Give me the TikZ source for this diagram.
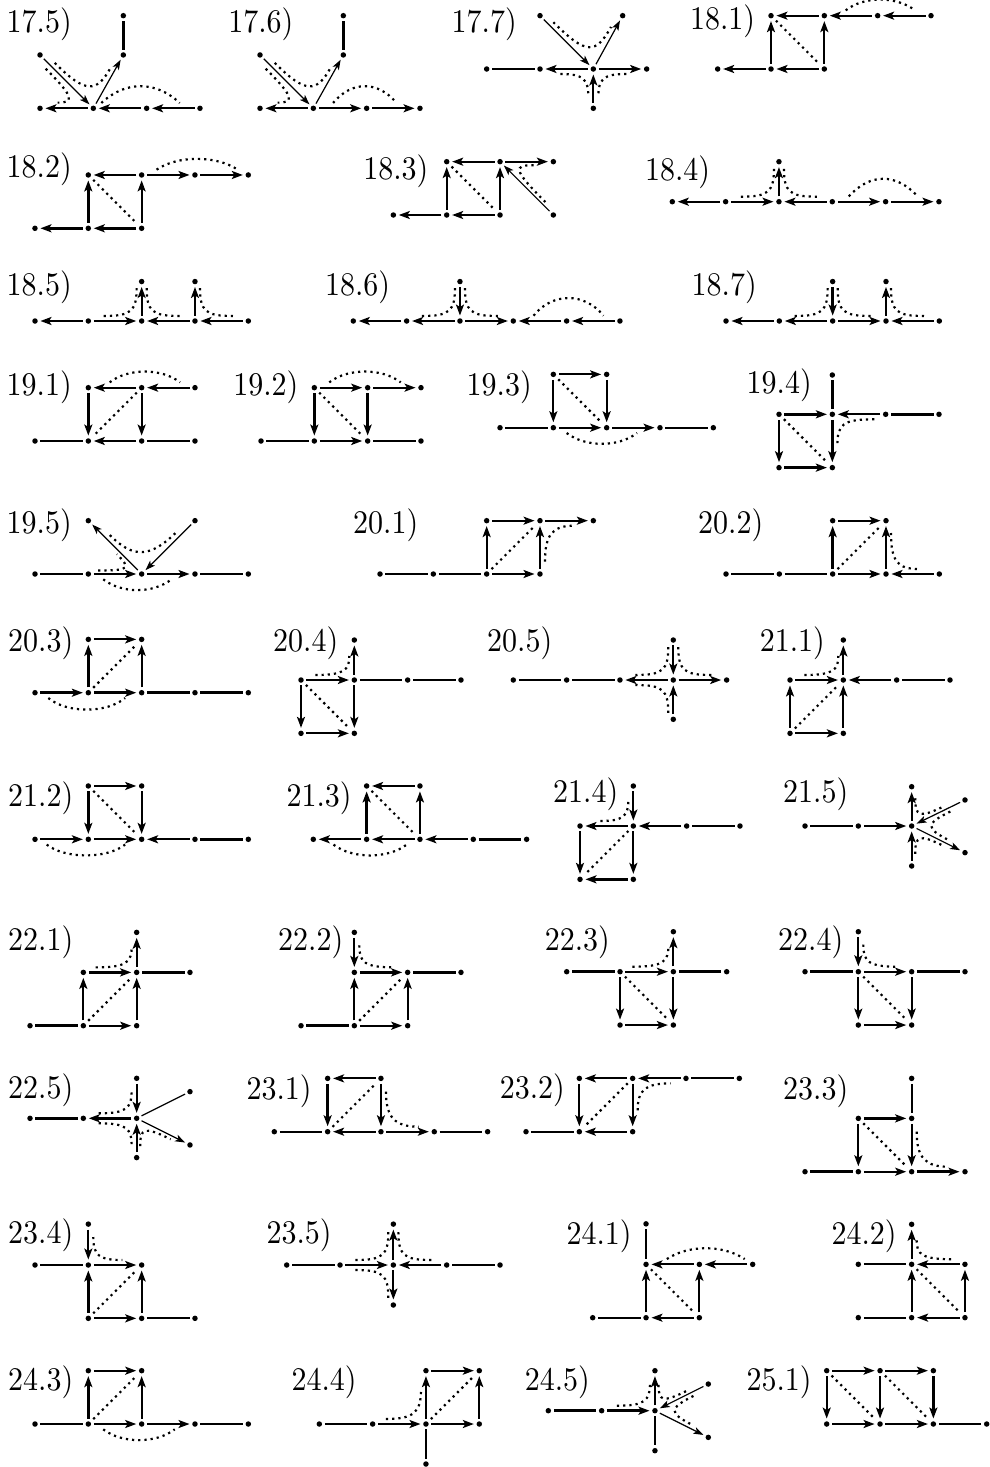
\documentclass[tikz,border=0pt]{standalone}
\usepackage{fontspec}
\usepackage{graphicx}
\newfontfamily\labfont{lmroman10-regular.otf}
\usetikzlibrary{arrows.meta,calc}
\tikzset{
 dt/.style={circle,fill=black,draw=none,inner sep=0pt,minimum size=5.5pt},
 ar/.style={line width=2pt,-{Stealth[length=11pt,width=8pt,inset=2.5pt]},shorten >=2.5pt,shorten <=2.5pt},
 tar/.style={ar,line width=2.8pt},
 nar/.style={line width=1.2pt,-{Stealth[length=10pt,width=7pt,inset=2.5pt]},shorten >=2.5pt,shorten <=2.5pt},
 ln/.style={line width=2pt,shorten >=2.5pt,shorten <=2.5pt},
 tln/.style={ln,line width=2.8pt},
 nln/.style={ln,line width=1.2pt},
 dc/.style={line width=2.2pt,dash pattern=on 2.2pt off 4pt},
 ds/.style={dc,shorten >=4pt,shorten <=4pt},
 lab/.style={anchor=base west,inner sep=0pt,font=\labfont\fontsize{30}{33}\selectfont},
 dg/.style={x=53.33pt,y=-53.33pt},
}
\newcommand\dotn[2]{\node[dt] (#1) at (#2) {};}
\newcommand\hug[7]{\draw[dc] ($(#1)!#4pt!(#2)+(#1)!#6pt!(#3)-(#1)$) .. controls ($(#1)!#7pt!(#2)+(#1)!#6pt!(#3)-(#1)$) and ($(#1)!#7pt!(#3)+(#1)!#6pt!(#2)-(#1)$) .. ($(#1)!#5pt!(#3)+(#1)!#6pt!(#2)-(#1)$);}
\newcommand\arcT[6]{\draw[dc] ($(#1)+(#2,-0.1)$) .. controls +(#5,-#6) and +(-#5,-#6) .. ($(#3)+(#4,-0.1)$);}
\newcommand\arcB[6]{\draw[dc] ($(#1)+(#2,0.1)$) .. controls +(#5,#6) and +(-#5,#6) .. ($(#3)+(#4,0.1)$);}
\newcommand\lbl[4]{\node[lab] (#3) at (#1,#2) {\scalebox{1}[1.1]{#4)}};}
\begin{document}
\begin{tikzpicture}[x=1pt,y=-1pt]
\useasboundingbox (0,0) rectangle (990,1467);
% ---------- 17.5
\lbl{6.5}{32}{l175}{17.5}
\begin{scope}[shift={(40,108.3)},dg,name prefix=a-]
\dotn{A}{0,-1}\dotn{B}{0,0}\dotn{C}{1,0}\dotn{D}{2,0}\dotn{E}{3,0}\dotn{F}{1.5625,-1}\dotn{G}{1.5625,-1.737}
\draw[ar] (C)--(B); \draw[ar] (D)--(C); \draw[ar] (E)--(D);
\draw[nar] (A)--(C); \draw[nar] (C)--(F); \draw[tln] (F)--(G);
\hug{C}{A}{B}{56}{30}{8}{14}
\hug{C}{A}{F}{58}{42}{5}{14}
\arcT{C}{0.15}{E}{-0.38}{0.45}{0.42}
\end{scope}
% ---------- 17.6
\lbl{228.2}{32}{l176}{17.6}
\begin{scope}[shift={(260,108.3)},dg,name prefix=b-]
\dotn{A}{0,-1}\dotn{B}{0,0}\dotn{C}{1,0}\dotn{D}{2,0}\dotn{E}{3,0}\dotn{F}{1.5625,-1}\dotn{G}{1.5625,-1.737}
\draw[ar] (C)--(B); \draw[ar] (C)--(D); \draw[ar] (D)--(E);
\draw[nar] (A)--(C); \draw[nar] (C)--(F); \draw[tln] (F)--(G);
\hug{C}{A}{B}{56}{30}{8}{14}
\hug{C}{A}{F}{58}{42}{5}{14}
\arcT{C}{0.37}{E}{-0.44}{0.35}{0.42}
\end{scope}
% ---------- 17.7
\lbl{451.5}{32}{l177}{17.7}
\begin{scope}[shift={(540,69)},dg,name prefix=c-]
\dotn{L0}{-1,0}\dotn{L1}{0,0}\dotn{C}{1,0}\dotn{R}{2,0}\dotn{Bt}{1,0.737}\dotn{P}{0,-1}\dotn{Q}{1.55,-1}
\draw[ln] (L0)--(L1); \draw[ar] (C)--(L1); \draw[ar] (C)--(R); \draw[ar] (Bt)--(C);
\draw[nar] (P)--(C); \draw[nar] (C)--(Q);
\hug{C}{P}{Q}{60}{44}{5}{13}
\hug{C}{L1}{Bt}{33}{28}{5}{10}
\hug{C}{R}{Bt}{33}{28}{5}{10}
\end{scope}
% ---------- 18.1
\lbl{689.8}{29.5}{l181}{18.1}
\begin{scope}[shift={(771,69)},dg,name prefix=d-]
\dotn{TL}{0,-1}\dotn{TM}{1,-1}\dotn{T3}{2,-1}\dotn{T4}{3,-1}\dotn{BLz}{-1,0}\dotn{BL}{0,0}\dotn{BM}{1,0}
\draw[ar] (TM)--(TL); \draw[ar] (T3)--(TM); \draw[ar] (T4)--(T3);
\draw[tar] (BL)--(TL); \draw[ar] (BM)--(TM); \draw[ar] (BL)--(BLz); \draw[ar] (BM)--(BL);
\draw[ds] (TL)--(BM);
\arcT{TM}{0.4}{T4}{-0.3}{0.35}{0.27}
\end{scope}
% ---------- 18.2
\lbl{6.5}{177}{l182}{18.2}
\begin{scope}[shift={(88.3,228.3)},dg,name prefix=e-]
\dotn{TL}{0,-1}\dotn{TM}{1,-1}\dotn{T3}{2,-1}\dotn{T4}{3,-1}\dotn{BLz}{-1,0}\dotn{BL}{0,0}\dotn{BM}{1,0}
\draw[tar] (TM)--(TL); \draw[ar] (TM)--(T3); \draw[tar] (T3)--(T4);
\draw[tar] (BL)--(TL); \draw[ar] (BM)--(TM); \draw[tar] (BL)--(BLz); \draw[tar] (BM)--(BL);
\draw[ds] (TL)--(BM);
\arcT{TM}{0.28}{T4}{-0.2}{0.4}{0.27}
\end{scope}
% ---------- 18.3
\lbl{363.2}{179}{l183}{18.3}
\begin{scope}[shift={(446.7,215)},dg,name prefix=f-]
\dotn{TL}{0,-1}\dotn{TM}{1,-1}\dotn{T3}{2,-1}\dotn{BLz}{-1,0}\dotn{BL}{0,0}\dotn{BM}{1,0}\dotn{BR}{2,0}
\draw[ar] (TM)--(TL); \draw[ar] (TM)--(T3); \draw[ar] (BL)--(TL); \draw[tar] (BM)--(TM);
\draw[ar] (BL)--(BLz); \draw[ar] (BM)--(BL); \draw[nar] (BR)--(TM);
\draw[ds] (TL)--(BM);
\hug{TM}{T3}{BR}{30}{58}{5}{10}
\end{scope}
% ---------- 18.4
\lbl{644.8}{180}{l184}{18.4}
\begin{scope}[shift={(672.3,201.7)},dg,name prefix=g-]
\dotn{N0}{0,0}\dotn{N1}{1,0}\dotn{N2}{2,0}\dotn{N3}{3,0}\dotn{N4}{4,0}\dotn{N5}{5,0}\dotn{T}{2,-0.75}
\draw[ar] (N1)--(N0); \draw[ar] (N1)--(N2); \draw[ar] (N3)--(N2); \draw[ar] (N3)--(N4); \draw[ar] (N4)--(N5); \draw[tar] (N2)--(T);
\hug{N2}{N1}{T}{38}{34}{5}{10}
\hug{N2}{N3}{T}{38}{34}{5}{10}
\arcT{N3}{0.31}{N5}{-0.4}{0.4}{0.44}
\end{scope}
% ---------- 18.5
\lbl{6.5}{295}{l185}{18.5}
\begin{scope}[shift={(35,321)},dg,name prefix=h-]
\dotn{N0}{0,0}\dotn{N1}{1,0}\dotn{N2}{2,0}\dotn{N3}{3,0}\dotn{N4}{4,0}\dotn{T1}{2,-0.74}\dotn{T2}{3,-0.74}
\draw[tar] (N1)--(N0); \draw[tar] (N1)--(N2); \draw[ar] (N3)--(N2); \draw[tar] (N4)--(N3);
\draw[ar] (N2)--(T1); \draw[ar] (N3)--(T2);
\hug{N2}{N1}{T1}{38}{34}{5}{10}
\hug{N2}{N3}{T1}{38}{34}{5}{10}
\hug{N3}{N4}{T2}{38}{34}{5}{10}
\end{scope}
% ---------- 18.6
\lbl{324.8}{295}{l186}{18.6}
\begin{scope}[shift={(353.3,321)},dg,name prefix=i-]
\dotn{N0}{0,0}\dotn{N1}{1,0}\dotn{N2}{2,0}\dotn{N3}{3,0}\dotn{N4}{4,0}\dotn{N5}{5,0}\dotn{T}{2,-0.74}
\draw[tar] (N1)--(N0); \draw[ar] (N2)--(N1); \draw[ar] (N2)--(N3); \draw[ar] (N4)--(N3); \draw[tar] (N5)--(N4);
\draw[tar] (T)--(N2);
\hug{N2}{N1}{T}{38}{34}{5}{10}
\hug{N2}{N3}{T}{38}{34}{5}{10}
\arcT{N3}{0.38}{N5}{-0.31}{0.35}{0.44}
\end{scope}
% ---------- 18.7
\lbl{691.5}{295}{l187}{18.7}
\begin{scope}[shift={(726,321)},dg,name prefix=j-]
\dotn{N0}{0,0}\dotn{N1}{1,0}\dotn{N2}{2,0}\dotn{N3}{3,0}\dotn{N4}{4,0}\dotn{T1}{2,-0.74}\dotn{T2}{3,-0.74}
\draw[ar] (N1)--(N0); \draw[ar] (N2)--(N1); \draw[ar] (N2)--(N3); \draw[ar] (N4)--(N3);
\draw[tar] (T1)--(N2); \draw[ar] (N3)--(T2);
\hug{N2}{N1}{T1}{38}{34}{5}{10}
\hug{N2}{N3}{T1}{38}{34}{5}{10}
\hug{N3}{N4}{T2}{38}{34}{5}{10}
\end{scope}
% ---------- 19.1
\lbl{6.5}{395}{l191}{19.1}
\begin{scope}[shift={(35,441)},dg,name prefix=k-]
\dotn{B0}{0,0}\dotn{B1}{1,0}\dotn{B2}{2,0}\dotn{B3}{3,0}\dotn{T1}{1,-1}\dotn{T2}{2,-1}\dotn{T3}{3,-1}
\draw[ar] (T2)--(T1); \draw[ar] (T3)--(T2); \draw[tar] (T1)--(B1); \draw[ar] (T2)--(B2); \draw[ar] (B2)--(B1);
\draw[ln] (B0)--(B1); \draw[ln] (B2)--(B3);
\draw[ds] (T2)--(B1);
\arcT{T1}{0.4}{T3}{-0.28}{0.35}{0.27}
\end{scope}
% ---------- 19.2
\lbl{233.2}{395}{l192}{19.2}
\begin{scope}[shift={(261,441)},dg,name prefix=l-]
\dotn{B0}{0,0}\dotn{B1}{1,0}\dotn{B2}{2,0}\dotn{B3}{3,0}\dotn{T1}{1,-1}\dotn{T2}{2,-1}\dotn{T3}{3,-1}
\draw[ar] (T1)--(T2); \draw[ar] (T2)--(T3); \draw[tar] (T1)--(B1); \draw[tar] (T2)--(B2); \draw[ar] (B1)--(B2);
\draw[ln] (B0)--(B1); \draw[ln] (B2)--(B3);
\draw[ds] (T1)--(B2);
\arcT{T1}{0.28}{T3}{-0.38}{0.35}{0.27}
\end{scope}
% ---------- 19.3
\lbl{466.5}{395}{l193}{19.3}
\begin{scope}[shift={(500,427.7)},dg,name prefix=m-]
\dotn{R0}{0,0}\dotn{R1}{1,0}\dotn{R2}{2,0}\dotn{R3}{3,0}\dotn{R4}{4,0}\dotn{T1}{1,-1}\dotn{T2}{2,-1}
\draw[ar] (T1)--(T2); \draw[ar] (T1)--(R1); \draw[ar] (T2)--(R2); \draw[ar] (R1)--(R2); \draw[ar] (R2)--(R3);
\draw[ln] (R0)--(R1); \draw[ln] (R3)--(R4);
\draw[ds] (T1)--(R2);
\arcB{R1}{0.25}{R3}{-0.43}{0.35}{0.27}
\end{scope}
% ---------- 19.4
\lbl{746.5}{393}{l194}{19.4}
\begin{scope}[shift={(779,414.3)},dg,name prefix=n-]
\dotn{M0}{0,0}\dotn{M1}{1,0}\dotn{M2}{2,0}\dotn{M3}{3,0}\dotn{T}{1,-0.737}\dotn{B0}{0,1}\dotn{B1}{1,1}
\draw[tar] (M0)--(M1); \draw[ar] (M2)--(M1); \draw[tln] (M2)--(M3); \draw[tln] (T)--(M1);
\draw[tar] (M0)--(B0); \draw[tar] (M1)--(B1); \draw[tar] (B0)--(B1);
\draw[ds] (M0)--(B1);
\hug{M1}{M2}{B1}{42}{32}{5}{10}
\end{scope}
% ---------- 19.5
\lbl{6.5}{533}{l195}{19.5}
\begin{scope}[shift={(35,574)},dg,name prefix=o-]
\dotn{R0}{0,0}\dotn{R1}{1,0}\dotn{R2}{2,0}\dotn{R3}{3,0}\dotn{R4}{4,0}\dotn{P}{1,-1}\dotn{Q}{3,-1}
\draw[ln] (R0)--(R1); \draw[ar] (R1)--(R2); \draw[ar] (R2)--(R3); \draw[ln] (R3)--(R4);
\draw[nar] (R2)--(P); \draw[nar] (Q)--(R2);
\hug{R2}{P}{Q}{50}{56}{5}{17}
\hug{R2}{R1}{P}{40}{28}{5}{8}
\arcB{R1}{0.28}{R3}{-0.44}{0.35}{0.27}
\end{scope}
% ---------- 20.1
\lbl{353}{533}{l201}{20.1}
\begin{scope}[shift={(380,574)},dg,name prefix=p-]
\dotn{R0}{0,0}\dotn{R1}{1,0}\dotn{R2}{2,0}\dotn{R3}{3,0}\dotn{T2}{2,-1}\dotn{T3}{3,-1}\dotn{T4}{4,-1}
\draw[ln] (R0)--(R1); \draw[ln] (R1)--(R2); \draw[ar] (R2)--(R3); \draw[ar] (R2)--(T2);
\draw[ar] (T2)--(T3); \draw[ar] (R3)--(T3); \draw[ar] (T3)--(T4);
\draw[ds] (R2)--(T3);
\hug{T3}{R3}{T4}{41}{35}{5}{13}
\end{scope}
% ---------- 20.2
\lbl{698}{533}{l202}{20.2}
\begin{scope}[shift={(726,574)},dg,name prefix=q-]
\dotn{R0}{0,0}\dotn{R1}{1,0}\dotn{R2}{2,0}\dotn{R3}{3,0}\dotn{R4}{4,0}\dotn{T2}{2,-1}\dotn{T3}{3,-1}
\draw[ln] (R0)--(R1); \draw[ln] (R1)--(R2); \draw[tar] (R2)--(T2); \draw[ar] (T2)--(T3);
\draw[ar] (R2)--(R3); \draw[ar] (R3)--(T3); \draw[ar] (R4)--(R3);
\draw[ds] (R2)--(T3);
\hug{R3}{T3}{R4}{41}{33}{5}{12}
\end{scope}
% ---------- 20.3
\lbl{8}{651}{l203}{20.3}
\begin{scope}[shift={(35,692.7)},dg,name prefix=r-]
\dotn{R0}{0,0}\dotn{R1}{1,0}\dotn{R2}{2,0}\dotn{R3}{3,0}\dotn{R4}{4,0}\dotn{T1}{1,-1}\dotn{T2}{2,-1}
\draw[tar] (R0)--(R1); \draw[tar] (R1)--(R2); \draw[tln] (R2)--(R3); \draw[tln] (R3)--(R4);
\draw[tar] (R1)--(T1); \draw[ar] (R2)--(T2); \draw[ar] (T1)--(T2);
\draw[ds] (R1)--(T2);
\arcB{R0}{0.25}{R2}{-0.31}{0.35}{0.29}
\end{scope}
% ---------- 20.4
\lbl{273}{651}{l204}{20.4}
\begin{scope}[shift={(301,680)},dg,name prefix=s-]
\dotn{M0}{0,0}\dotn{M1}{1,0}\dotn{M2}{2,0}\dotn{M3}{3,0}\dotn{T}{1,-0.75}\dotn{B0}{0,1}\dotn{B1}{1,1}
\draw[ar] (M0)--(M1); \draw[ar] (M1)--(T); \draw[ln] (M1)--(M2); \draw[ln] (M2)--(M3);
\draw[ar] (M0)--(B0); \draw[ar] (M1)--(B1); \draw[ar] (B0)--(B1);
\draw[ds] (M0)--(B1);
\hug{M1}{M0}{T}{39}{24}{5}{10}
\end{scope}
% ---------- 20.5
\lbl{487}{651}{l205}{20.5}
\begin{scope}[shift={(513.3,680)},dg,name prefix=t-]
\dotn{R0}{0,0}\dotn{R1}{1,0}\dotn{R2}{2,0}\dotn{R3}{3,0}\dotn{R4}{4,0}\dotn{T}{3,-0.75}\dotn{B}{3,0.737}
\draw[ln] (R0)--(R1); \draw[ln] (R1)--(R2); \draw[ar] (R3)--(R2); \draw[ar] (R3)--(R4);
\draw[ar] (T)--(R3); \draw[ar] (B)--(R3);
\hug{R3}{R2}{T}{38}{34}{5}{10}
\hug{R3}{R4}{T}{38}{34}{5}{10}
\hug{R3}{R2}{B}{38}{34}{5}{10}
\end{scope}
% ---------- 21.1
\lbl{759.7}{651}{l211}{21.1}
\begin{scope}[shift={(790,680)},dg,name prefix=u-]
\dotn{M0}{0,0}\dotn{M1}{1,0}\dotn{M2}{2,0}\dotn{M3}{3,0}\dotn{T}{1,-0.75}\dotn{B0}{0,1}\dotn{B1}{1,1}
\draw[ar] (M0)--(M1); \draw[ar] (M1)--(T); \draw[ar] (M2)--(M1); \draw[ln] (M2)--(M3);
\draw[ar] (B0)--(M0); \draw[ar] (B1)--(M1); \draw[ar] (B0)--(B1);
\draw[ds] (B0)--(M1);
\hug{M1}{M0}{T}{39}{24}{5}{10}
\end{scope}
% ---------- 21.2
\lbl{8}{806}{l212}{21.2}
\begin{scope}[shift={(35,839.3)},dg,name prefix=v-]
\dotn{R0}{0,0}\dotn{R1}{1,0}\dotn{R2}{2,0}\dotn{R3}{3,0}\dotn{R4}{4,0}\dotn{T1}{1,-1}\dotn{T2}{2,-1}
\draw[ar] (R0)--(R1); \draw[ar] (R1)--(R2); \draw[ar] (R3)--(R2); \draw[tln] (R3)--(R4);
\draw[ar] (T1)--(T2); \draw[tar] (T1)--(R1); \draw[ar] (T2)--(R2);
\draw[ds] (T1)--(R2);
\arcB{R0}{0.22}{R2}{-0.31}{0.35}{0.27}
\end{scope}
% ---------- 21.3
\lbl{286.3}{806}{l213}{21.3}
\begin{scope}[shift={(313.3,839.3)},dg,name prefix=w-]
\dotn{R0}{0,0}\dotn{R1}{1,0}\dotn{R2}{2,0}\dotn{R3}{3,0}\dotn{R4}{4,0}\dotn{T1}{1,-1}\dotn{T2}{2,-1}
\draw[ar] (R1)--(R0); \draw[ar] (R2)--(R1); \draw[ar] (R3)--(R2); \draw[tln] (R3)--(R4);
\draw[ar] (T2)--(T1); \draw[tar] (R1)--(T1); \draw[ar] (R2)--(T2);
\draw[ds] (T1)--(R2);
\arcB{R0}{0.38}{R2}{-0.25}{0.35}{0.27}
\end{scope}
% ---------- 21.4
\lbl{553}{802}{l214}{21.4}
\begin{scope}[shift={(580,826)},dg,name prefix=x-]
\dotn{M0}{0,0}\dotn{M1}{1,0}\dotn{M2}{2,0}\dotn{M3}{3,0}\dotn{T}{1,-0.75}\dotn{B0}{0,1}\dotn{B1}{1,1}
\draw[ar] (T)--(M1); \draw[ar] (M1)--(M0); \draw[ar] (M2)--(M1); \draw[ln] (M2)--(M3);
\draw[ar] (M0)--(B0); \draw[ar] (M1)--(B1); \draw[tar] (B1)--(B0);
\draw[ds] (M1)--(B0);
\hug{M1}{M0}{T}{33}{26}{5}{10}
\end{scope}
% ---------- 21.5
\lbl{783}{802}{l215}{21.5}
\begin{scope}[shift={(805,826)},dg,name prefix=y-]
\dotn{M0}{0,0}\dotn{M1}{1,0}\dotn{C}{2,0}\dotn{T}{2,-0.737}\dotn{B}{2,0.75}\dotn{RU}{3,-0.488}\dotn{RD}{3,0.5}
\draw[ln] (M0)--(M1); \draw[ar] (M1)--(C); \draw[ar] (C)--(T); \draw[ar] (B)--(C);
\draw[nar] (RU)--(C); \draw[nar] (C)--(RD);
\hug{C}{T}{RU}{26}{36}{4}{8}
\hug{C}{RU}{RD}{38}{38}{5}{10}
\hug{C}{B}{RD}{26}{36}{4}{8}
\end{scope}
% ---------- 22.1
\lbl{8}{950}{l221}{22.1}
\begin{scope}[shift={(30,1025.7)},dg,name prefix=z1-]
\dotn{B0}{0,0}\dotn{B1}{1,0}\dotn{B2}{2,0}\dotn{M1}{1,-1}\dotn{M2}{2,-1}\dotn{M3}{3,-1}\dotn{T}{2,-1.75}
\draw[tln] (B0)--(B1); \draw[ar] (B1)--(B2); \draw[ar] (B1)--(M1); \draw[ar] (B2)--(M2);
\draw[tar] (M1)--(M2); \draw[tln] (M2)--(M3); \draw[ar] (M2)--(T);
\draw[ds] (B1)--(M2);
\hug{M2}{M1}{T}{41}{26}{5}{10}
\end{scope}
% ---------- 22.2
\lbl{278}{950}{l222}{22.2}
\begin{scope}[shift={(301,1025.7)},dg,name prefix=z2-]
\dotn{B0}{0,0}\dotn{B1}{1,0}\dotn{B2}{2,0}\dotn{M1}{1,-1}\dotn{M2}{2,-1}\dotn{M3}{3,-1}\dotn{T}{1,-1.75}
\draw[tln] (B0)--(B1); \draw[ar] (B1)--(B2); \draw[ar] (B1)--(M1); \draw[ar] (B2)--(M2);
\draw[tar] (M1)--(M2); \draw[tln] (M2)--(M3); \draw[ar] (T)--(M1);
\draw[ds] (B1)--(M2);
\hug{M1}{T}{M2}{27}{40}{5}{10}
\end{scope}
% ---------- 22.3
\lbl{544.7}{950}{l223}{22.3}
\begin{scope}[shift={(566.7,971.7)},dg,name prefix=z3-]
\dotn{M0}{0,0}\dotn{M1}{1,0}\dotn{M2}{2,0}\dotn{M3}{3,0}\dotn{T}{2,-0.75}\dotn{B1}{1,1}\dotn{B2}{2,1}
\draw[tln] (M0)--(M1); \draw[ar] (M1)--(M2); \draw[tln] (M2)--(M3); \draw[ar] (M2)--(T);
\draw[ar] (M1)--(B1); \draw[ar] (M2)--(B2); \draw[tar] (B1)--(B2);
\draw[ds] (M1)--(B2);
\hug{M2}{M1}{T}{41}{26}{5}{10}
\end{scope}
% ---------- 22.4
\lbl{778}{950}{l224}{22.4}
\begin{scope}[shift={(805,971.7)},dg,name prefix=z4-]
\dotn{M0}{0,0}\dotn{M1}{1,0}\dotn{M2}{2,0}\dotn{M3}{3,0}\dotn{T}{1,-0.75}\dotn{B1}{1,1}\dotn{B2}{2,1}
\draw[tln] (M0)--(M1); \draw[ar] (M1)--(M2); \draw[tln] (M2)--(M3); \draw[ar] (T)--(M1);
\draw[ar] (M1)--(B1); \draw[ar] (M2)--(B2); \draw[tar] (B1)--(B2);
\draw[ds] (M1)--(B2);
\hug{M1}{T}{M2}{27}{40}{5}{10}
\end{scope}
% ---------- 22.5
\lbl{8}{1098}{l225}{22.5}
\begin{scope}[shift={(30,1118.3)},dg,name prefix=z5-]
\dotn{M0}{0,0}\dotn{M1}{1,0}\dotn{C}{2,0}\dotn{T}{2,-0.75}\dotn{B}{2,0.737}\dotn{RU}{3,-0.5}\dotn{RD}{3,0.5}
\draw[tln] (M0)--(M1); \draw[tar] (C)--(M1); \draw[ar] (T)--(C); \draw[ar] (B)--(C);
\draw[nln] (C)--(RU); \draw[nar] (C)--(RD);
\hug{C}{M1}{T}{38}{28}{5}{10}
\hug{C}{M1}{B}{38}{28}{5}{10}
\hug{C}{B}{RD}{26}{38}{4}{8}
\end{scope}
% ---------- 23.1
\lbl{246.3}{1099}{l231}{23.1}
\begin{scope}[shift={(274.3,1131.7)},dg,name prefix=z6-]
\dotn{R0}{0,0}\dotn{R1}{1,0}\dotn{R2}{2,0}\dotn{R3}{3,0}\dotn{R4}{4,0}\dotn{T1}{1,-1}\dotn{T2}{2,-1}
\draw[ln] (R0)--(R1); \draw[ar] (R2)--(R1); \draw[ar] (R2)--(R3); \draw[ln] (R3)--(R4);
\draw[ar] (T2)--(T1); \draw[tar] (T1)--(R1); \draw[ar] (T2)--(R2);
\draw[ds] (R1)--(T2);
\hug{R2}{T2}{R3}{40}{38}{5}{14}
\end{scope}
% ---------- 23.2
\lbl{499.7}{1098}{l232}{23.2}
\begin{scope}[shift={(526,1131.7)},dg,name prefix=z7-]
\dotn{B0}{0,0}\dotn{B1}{1,0}\dotn{B2}{2,0}\dotn{T1}{1,-1}\dotn{T2}{2,-1}\dotn{T3}{3,-1}\dotn{T4}{4,-1}
\draw[ar] (T2)--(T1); \draw[ar] (T3)--(T2); \draw[ln] (T3)--(T4); \draw[ar] (T1)--(B1);
\draw[ar] (T2)--(B2); \draw[ar] (B2)--(B1); \draw[ln] (B0)--(B1);
\draw[ds] (T2)--(B1);
\hug{T2}{B2}{T3}{32}{38}{5}{12}
\end{scope}
% ---------- 23.3
\lbl{783}{1099}{l233}{23.3}
\begin{scope}[shift={(805,1171.7)},dg,name prefix=z8-]
\dotn{R0}{0,0}\dotn{R1}{1,0}\dotn{R2}{2,0}\dotn{R3}{3,0}\dotn{M1}{1,-1}\dotn{M2}{2,-1}\dotn{T}{2,-1.75}
\draw[tln] (R0)--(R1); \draw[ar] (R1)--(R2); \draw[tar] (R2)--(R3); \draw[tar] (M1)--(M2);
\draw[ar] (M1)--(R1); \draw[ar] (M2)--(R2); \draw[ln] (T)--(M2);
\draw[ds] (M1)--(R2);
\hug{R2}{M2}{R3}{40}{36}{5}{14}
\end{scope}
% ---------- 23.4
\lbl{8}{1243}{l234}{23.4}
\begin{scope}[shift={(35,1265)},dg,name prefix=z9-]
\dotn{M0}{0,0}\dotn{M1}{1,0}\dotn{M2}{2,0}\dotn{T}{1,-0.767}\dotn{B1}{1,1}\dotn{B2}{2,1}\dotn{B3}{3,1}
\draw[ln] (M0)--(M1); \draw[ar] (M1)--(M2); \draw[ar] (T)--(M1); \draw[tar] (B1)--(M1);
\draw[ar] (B2)--(M2); \draw[ar] (B1)--(B2); \draw[ln] (B2)--(B3);
\draw[ds] (B1)--(M2);
\hug{M1}{T}{M2}{28}{34}{5}{10}
\end{scope}
% ---------- 23.5
\lbl{266.3}{1243}{l235}{23.5}
\begin{scope}[shift={(286.7,1265)},dg,name prefix=y1-]
\dotn{R0}{0,0}\dotn{R1}{1,0}\dotn{R2}{2,0}\dotn{R3}{3,0}\dotn{R4}{4,0}\dotn{T}{2,-0.767}\dotn{B}{2,0.75}
\draw[ln] (R0)--(R1); \draw[ar] (R1)--(R2); \draw[ar] (R3)--(R2); \draw[ln] (R3)--(R4);
\draw[ar] (R2)--(T); \draw[ar] (R2)--(B);
\hug{R2}{R1}{T}{38}{34}{5}{10}
\hug{R2}{R3}{T}{38}{34}{5}{10}
\hug{R2}{R1}{B}{38}{34}{5}{10}
\end{scope}
% ---------- 24.1
\lbl{566.3}{1244}{l241}{24.1}
\begin{scope}[shift={(592.7,1317.7)},dg,name prefix=y2-]
\dotn{B0}{0,0}\dotn{B1}{1,0}\dotn{B2}{2,0}\dotn{M1}{1,-1}\dotn{M2}{2,-1}\dotn{M3}{3,-1}\dotn{T}{1,-1.76}
\draw[ln] (B0)--(B1); \draw[ar] (B2)--(B1); \draw[ar] (B1)--(M1); \draw[ar] (B2)--(M2);
\draw[ar] (M2)--(M1); \draw[ar] (M3)--(M2); \draw[ln] (T)--(M1);
\draw[ds] (M1)--(B2);
\arcT{M1}{0.39}{M3}{-0.15}{0.4}{0.27}
\end{scope}
% ---------- 24.2
\lbl{831.3}{1244}{l242}{24.2}
\begin{scope}[shift={(858.3,1264.3)},dg,name prefix=y3-]
\dotn{M0}{0,0}\dotn{M1}{1,0}\dotn{M2}{2,0}\dotn{T}{1,-0.75}\dotn{B0}{0,1}\dotn{B1}{1,1}\dotn{B2}{2,1}
\draw[ln] (M0)--(M1); \draw[ar] (M2)--(M1); \draw[ar] (M1)--(T); \draw[ar] (B1)--(M1);
\draw[tar] (B2)--(M2); \draw[ar] (B2)--(B1); \draw[ln] (B0)--(B1);
\draw[ds] (M1)--(B2);
\hug{M1}{T}{M2}{24}{42}{5}{10}
\end{scope}
% ---------- 24.3
\lbl{8}{1390}{l243}{24.3}
\begin{scope}[shift={(35,1424)},dg,name prefix=y4-]
\dotn{R0}{0,0}\dotn{R1}{1,0}\dotn{R2}{2,0}\dotn{R3}{3,0}\dotn{R4}{4,0}\dotn{T1}{1,-1}\dotn{T2}{2,-1}
\draw[ln] (R0)--(R1); \draw[ar] (R1)--(R2); \draw[ar] (R2)--(R3); \draw[ln] (R3)--(R4);
\draw[tar] (R1)--(T1); \draw[ar] (R2)--(T2); \draw[ar] (T1)--(T2);
\draw[ds] (R1)--(T2);
\arcB{R1}{0.28}{R3}{-0.38}{0.35}{0.27}
\end{scope}
% ---------- 24.4
\lbl{291.3}{1390}{l244}{24.4}
\begin{scope}[shift={(319.3,1424)},dg,name prefix=y5-]
\dotn{R0}{0,0}\dotn{R1}{1,0}\dotn{R2}{2,0}\dotn{R3}{3,0}\dotn{T2}{2,-1}\dotn{T3}{3,-1}\dotn{B}{2,0.75}
\draw[ln] (R0)--(R1); \draw[ar] (R1)--(R2); \draw[ar] (R2)--(R3); \draw[ar] (R2)--(T2);
\draw[ar] (R3)--(T3); \draw[ar] (T2)--(T3); \draw[ln] (R2)--(B);
\draw[ds] (R2)--(T3);
\hug{R2}{R1}{T2}{40}{34}{5}{12}
\end{scope}
% ---------- 24.5
\lbl{524.7}{1390}{l245}{24.5}
\begin{scope}[shift={(548.3,1410.7)},dg,name prefix=y6-]
\dotn{M0}{0,0}\dotn{M1}{1,0}\dotn{C}{2,0}\dotn{T}{2,-0.75}\dotn{B}{2,0.75}\dotn{RU}{3,-0.5}\dotn{RD}{3,0.5}
\draw[tln] (M0)--(M1); \draw[tar] (M1)--(C); \draw[ar] (C)--(T); \draw[ln] (C)--(B);
\draw[nar] (RU)--(C); \draw[nar] (C)--(RD);
\hug{C}{M1}{T}{38}{28}{5}{10}
\hug{C}{T}{RU}{24}{36}{4}{8}
\hug{C}{RU}{RD}{38}{38}{5}{10}
\end{scope}
% ---------- 25.1
\lbl{746.3}{1390}{l251}{25.1}
\begin{scope}[shift={(826.7,1424)},dg,name prefix=y7-]
\dotn{B0}{0,0}\dotn{B1}{1,0}\dotn{B2}{2,0}\dotn{B3}{3,0}\dotn{T0}{0,-1}\dotn{T1}{1,-1}\dotn{T2}{2,-1}
\draw[ar] (T0)--(T1); \draw[ar] (T1)--(T2); \draw[ar] (T0)--(B0); \draw[ar] (T1)--(B1);
\draw[tar] (T2)--(B2); \draw[ar] (B0)--(B1); \draw[ar] (B1)--(B2); \draw[ln] (B2)--(B3);
\draw[ds] (T0)--(B1); \draw[ds] (T1)--(B2);
\end{scope}
\end{tikzpicture}
\end{document}
